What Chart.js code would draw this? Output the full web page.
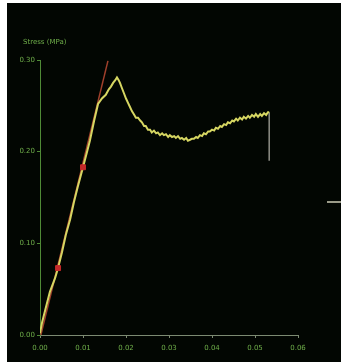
<!DOCTYPE html>
<html><head><meta charset="utf-8">
<script src="https://cdn.jsdelivr.net/npm/chart.js@4"></script>
<style>
html,body{margin:0;padding:0;background:#fff;}
#wrap{position:relative;width:341px;height:364px;}
#bg{position:absolute;left:7px;top:3px;width:334px;height:359px;background:#020602;}
#c{position:absolute;left:0;top:0;}
#ttl{position:absolute;left:23px;top:38px;font:7px "DejaVu Sans",sans-serif;color:#6fae4a;white-space:nowrap;}
#dash{position:absolute;left:327px;top:201px;width:14px;height:2px;background:#9a9a88;}
</style></head><body>
<div id="wrap"><div id="bg"></div><canvas id="c" width="341" height="364"></canvas><div id="ttl">Stress (MPa)</div><div id="dash"></div></div>
<script>
const strain=[0,0.0005,0.0012,0.0023,0.0035,0.0042,0.0051,0.0060,0.0070,0.0079,0.0088,0.0100,0.0109,0.0116,0.0126,0.0135,0.0144,0.0153,0.0160,0.0165,0.0170,0.0175,0.0179,0.0183,0.0186,0.0190,0.0195,0.0200,0.0205,0.0209,0.0214,0.0218,0.0223,0.0228,0.0233,0.0237,0.0242,0.0246,0.0251,0.0256,0.0260,0.0265,0.0270,0.0274,0.0279,0.0284,0.0288,0.0293,0.0298,0.0302,0.0307,0.0312,0.0316,0.0321,0.0326,0.0330,0.0335,0.0340,0.0344,0.0349,0.0353,0.0358,0.0363,0.0367,0.0372,0.0377,0.0381,0.0386,0.0391,0.0395,0.0400,0.0405,0.0409,0.0414,0.0419,0.0423,0.0428,0.0433,0.0437,0.0442,0.0447,0.0451,0.0456,0.0460,0.0465,0.0470,0.0474,0.0479,0.0484,0.0488,0.0493,0.0498,0.0502,0.0507,0.0512,0.0516,0.0521,0.0526,0.0530,0.0533];
const stress=[0.002,0.014,0.027,0.047,0.062,0.073,0.090,0.109,0.126,0.145,0.162,0.183,0.199,0.212,0.234,0.252,0.258,0.262,0.268,0.271,0.275,0.278,0.281,0.278,0.275,0.270,0.264,0.258,0.253,0.249,0.244,0.241,0.237,0.237,0.234,0.232,0.228,0.228,0.224,0.224,0.221,0.223,0.220,0.221,0.218,0.220,0.218,0.219,0.216,0.218,0.216,0.217,0.215,0.217,0.214,0.215,0.213,0.215,0.212,0.213,0.214,0.214,0.216,0.215,0.218,0.217,0.220,0.219,0.222,0.222,0.224,0.223,0.226,0.225,0.228,0.227,0.230,0.229,0.232,0.231,0.234,0.233,0.236,0.234,0.237,0.235,0.238,0.236,0.239,0.237,0.240,0.238,0.241,0.238,0.241,0.239,0.242,0.240,0.243,0.243];
const fitStrain=[0.0002,0.0158];
const fitStress=[0.000,0.299];
const markStrain=[0.0042,0.0100];
const markStress=[0.073,0.183];
const dropStrain=[0.0533,0.0533];
const dropStress=[0.243,0.190];
const xTicks=[0,0.01,0.02,0.03,0.04,0.05,0.06];
const yTicks=[0,0.10,0.20,0.30];

const pts=(xs,ys)=>xs.map((x,i)=>({x:x,y:ys[i]}));
const font={family:'"DejaVu Sans", sans-serif',size:7};
new Chart(document.getElementById('c'),{
  type:'scatter',
  data:{datasets:[
    {order:3,data:pts(fitStrain,fitStress),showLine:true,borderColor:'#a0402c',borderWidth:1.5,pointRadius:0},
    {order:2,data:pts(strain,stress),showLine:true,borderColor:'#d6d662',borderWidth:2,pointRadius:0,tension:0},
    {order:2,data:pts(dropStrain,dropStress),showLine:true,borderColor:'#8e8e86',borderWidth:1.5,pointRadius:0},
    {order:0,data:pts(markStrain,markStress),showLine:false,pointStyle:'rect',pointRadius:3.5,backgroundColor:'#c42a2a',borderColor:'#c42a2a'}
  ]},
  options:{
    responsive:false,animation:false,
    layout:{padding:{left:0,right:43,top:60,bottom:0}},
    plugins:{legend:{display:false},tooltip:{enabled:false}},
    scales:{
      x:{type:'linear',min:0,max:0.06,
        afterFit:s=>{s.height=29;},
        afterBuildTicks:s=>{s.ticks=xTicks.map(v=>({value:v}));},
        grid:{display:true,drawOnChartArea:false,color:'#7c8a72',tickLength:3},
        border:{color:'#7c8a72',width:1},
        ticks:{color:'#6fae4a',font:font,padding:6,callback:v=>v.toFixed(2)}},
      y:{type:'linear',min:0,max:0.30,
        afterFit:s=>{s.width=40;},
        afterBuildTicks:s=>{s.ticks=yTicks.map(v=>({value:v}));},
        grid:{display:true,drawOnChartArea:false,color:'#4f8a36',tickLength:3},
        border:{color:'#4f8a36',width:1},
        ticks:{color:'#6fae4a',font:font,padding:2,callback:v=>v.toFixed(2)}}
    }
  }
});
</script>
</body></html>
